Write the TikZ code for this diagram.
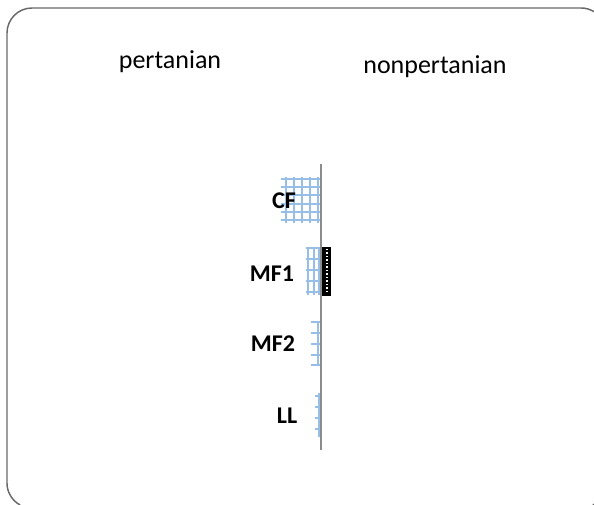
\documentclass[tikz,border=0pt]{standalone}
\usepackage{fontspec}
\setmainfont{Carlito}
\usepackage{xcolor}
\usetikzlibrary{positioning}
\definecolor{gridblue}{RGB}{150,190,230}
\definecolor{framegray}{RGB}{105,105,105}
\definecolor{axisgray}{RGB}{140,140,140}

\begin{document}
\begin{tikzpicture}[x=0.75pt,y=-0.75pt,
    catlabel/.style={font=\fontsize{19.5}{22}\selectfont},
    barlabel/.style={font=\fontsize{18}{21}\selectfont\bfseries},
    gridline/.style={gridblue, line width=1.5pt}]
        \useasboundingbox (0,0) rectangle (594,505);
        % frame, only the part that shows
        \draw[framegray, line width=1.1pt] (20.1,505) arc[start angle=118.4, end angle=180, radius=25]
            -- (7,33) arc[start angle=180, end angle=270, radius=25]
            -- (581,8) arc[start angle=270, end angle=301.3, radius=25];
        \draw[framegray, line width=1.1pt] (581,483) ++(56:25) arc[start angle=56, end angle=61.6, radius=25];

        \node[catlabel] (pert) at (170,62) {pertanian};
        \node[catlabel] (nonpert) at (435,67) {nonpertanian};

        % CF bar
        \foreach \x in {285.5,293.5,...,317.5} \draw[gridline] (\x,177) -- (\x,223);
        \foreach \y in {179,187.2,...,220} \draw[gridline] (281,\y) -- (321,\y);
        % MF1 bar
        \foreach \x in {308,313.5,319} \draw[gridline] (\x,247) -- (\x,295);
        \foreach \y in {248,259,...,292} \draw[gridline] (306,\y) -- (321,\y);
        \fill[black] (322,247) rectangle (331,296);
        \foreach \y in {249,252.5,...,294} \fill[white] (325.5,\y) rectangle (327.5,\y+1.5);
        % MF2 bar
        \draw[gridline] (317.5,322) -- (317.5,366);
        \foreach \y in {322,333,344,355,365} \draw[gridline] (311,\y) -- (321,\y);
        % LL bar
        \draw[gridline] (318.5,393) -- (318.5,437);
        \foreach \y in {396,407,418,429} \draw[gridline] (315,\y) -- (321,\y);

        \node[barlabel] (cf) at (284,201) {CF};
        \node[barlabel] (mf1) at (272,274) {MF1};
        \node[barlabel] (mf2) at (273,344) {MF2};
        \node[barlabel] (ll) at (287,416) {LL};

        \coordinate (axtop) at (321,164);
        \coordinate (axbot) at (321,450);
        \draw[axisgray, line width=1.2pt] (axtop) -- (axbot); % axis
    \end{tikzpicture}
\end{document}
